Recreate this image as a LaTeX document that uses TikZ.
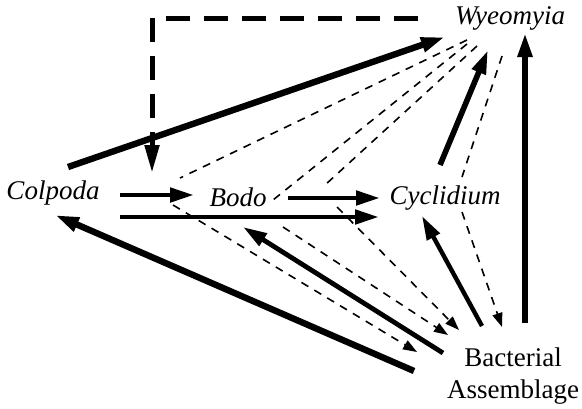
\documentclass[tikz,border=0pt]{standalone}
\usepackage{fontspec}
\setmainfont{Liberation Serif}
\usetikzlibrary{arrows.meta}
\tikzset{
  taxon/.style={inner sep=0pt, font=\fontsize{13.5}{16}\selectfont\itshape},
  strong/.style={line width=2.4pt, -{Triangle[length=12pt,width=7pt]}},
  indirect/.style={line width=0.8pt, dash pattern=on 4pt off 3.5pt},
  indirecttip/.style={indirect, -{Triangle[length=7pt,width=5pt]}},
  bigdash/.style={line width=2.5pt, dash pattern=on 12pt off 7pt, -{Triangle[length=14pt,width=7pt]}}
}
\begin{document}
\begin{tikzpicture}[x=0.5pt,y=-0.5pt]
      \useasboundingbox (0,0) rectangle (582,408);
      \draw
        (53,193) node[taxon] (colpoda){Colpoda}
        (238,197) node[taxon] (bodo){Bodo}
        (445,198) node[taxon] (cyclidium){Cyclidium}
        (510,18) node[taxon] (wyeomyia){Wyeomyia}
        (513,376) node[taxon, font=\fontsize{13.5}{16}\selectfont\upshape, align=center] (bacteria){Bacterial\\Assemblage};
      \coordinate (drop) at (152,173);
      \draw[bigdash] ([shift={(-92,0)}]wyeomyia.center) -| (drop);
      \begin{scope}[strong]
        \draw[line width=3.2pt] ([shift={(15,-26)}]colpoda.center) to ([shift={(-65,19)}]wyeomyia.center);
        \draw ([shift={(67,2)}]colpoda.center) to ([shift={(-44,-2)}]bodo.center);
        \draw ([shift={(67,24)}]colpoda.center) to ([shift={(-66,19)}]cyclidium.center);
        \draw ([shift={(50,1)}]bodo.center) to ([shift={(-65,0)}]cyclidium.center);
        \draw[line width=3.2pt] ([shift={(-99,-5)}]bacteria.center) to ([shift={(2,22)}]colpoda.center);
        \draw ([shift={(-70,-23)}]bacteria.center) to ([shift={(5,30)}]bodo.center);
        \draw[line width=2.2pt] ([shift={(-31,-50)}]bacteria.center) to ([shift={(-23,18)}]cyclidium.center);
        \draw[line width=2.8pt] ([shift={(-5,-33)}]cyclidium.center) to ([shift={(-22,32)}]wyeomyia.center);
        \draw[line width=2.8pt] ([shift={(12,-53)}]bacteria.center) to ([shift={(15,15)}]wyeomyia.center);
      \end{scope}
      \begin{scope}[indirect]
        \draw ([shift={(-43,22)}]wyeomyia.center) to ([shift={(-58,-19)}]bodo.center);
        \draw ([shift={(-43,26)}]wyeomyia.center) to ([shift={(35,3)}]bodo.center);
        \draw ([shift={(-33,28)}]wyeomyia.center) to ([shift={(87,-12)}]bodo.center);
        \draw ([shift={(-8,38)}]wyeomyia.center) to ([shift={(17,-21)}]cyclidium.center);
      \end{scope}
      \begin{scope}[indirecttip]
        \draw ([shift={(-65,8)}]bodo.center) to ([shift={(-96,-24)}]bacteria.center);
        \draw ([shift={(45,30)}]bodo.center) to ([shift={(-65,-41)}]bacteria.center);
        \draw ([shift={(99,10)}]bodo.center) to ([shift={(-54,-46)}]bacteria.center);
        \draw ([shift={(17,14)}]cyclidium.center) to ([shift={(-11,-49)}]bacteria.center);
      \end{scope}
    \end{tikzpicture}
\end{document}
